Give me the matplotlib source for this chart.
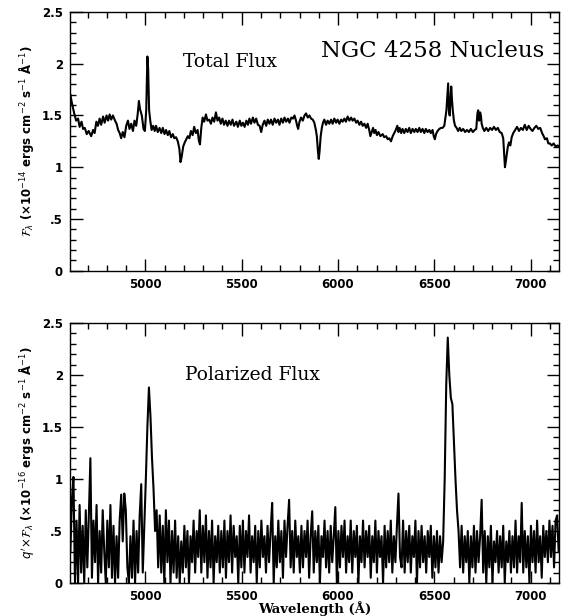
import numpy as np
import matplotlib
matplotlib.use("Agg")
import matplotlib.pyplot as plt
from matplotlib.ticker import MultipleLocator, FuncFormatter

# total flux spectrum (wavelength in A, flux in 1e-14 ergs/cm2/s/A)
wl_total = [4610, 4618, 4630, 4640, 4650, 4658, 4668, 4676, 4685, 4695, 4705, 4718, 4728, 4736, 4745,
            4753, 4762, 4770, 4780, 4788, 4798, 4806, 4814, 4822, 4831, 4842, 4850, 4858, 4866, 4874,
            4882, 4891, 4900, 4909, 4917, 4926, 4935, 4943, 4952, 4960, 4966, 4972, 4981, 4990, 4997,
            5004, 5010, 5014, 5019, 5025, 5032, 5040, 5048, 5055, 5064, 5073, 5082, 5090, 5099, 5107,
            5116, 5124, 5133, 5142, 5150, 5159, 5168, 5176, 5182, 5188, 5196, 5204, 5212, 5220, 5228,
            5236, 5245, 5253, 5262, 5271, 5277, 5283, 5290, 5297, 5305, 5314, 5322, 5331, 5340, 5348,
            5357, 5366, 5374, 5383, 5391, 5400, 5408, 5417, 5426, 5434, 5443, 5452, 5460, 5472, 5480,
            5490, 5498, 5506, 5515, 5524, 5532, 5540, 5548, 5558, 5566, 5575, 5584, 5593, 5601, 5609,
            5618, 5627, 5635, 5644, 5652, 5661, 5670, 5679, 5688, 5696, 5705, 5714, 5722, 5731, 5740,
            5748, 5757, 5766, 5774, 5782, 5788, 5793, 5800, 5808, 5817, 5826, 5834, 5843, 5852, 5860,
            5869, 5877, 5885, 5890, 5896, 5900, 5904, 5910, 5916, 5922, 5929, 5938, 5946, 5955, 5964,
            5972, 5981, 5990, 5998, 6007, 6016, 6024, 6033, 6041, 6050, 6059, 6068, 6076, 6085, 6094,
            6102, 6111, 6120, 6128, 6137, 6146, 6154, 6162, 6168, 6175, 6182, 6188, 6195, 6202, 6210,
            6220, 6232, 6240, 6250, 6258, 6266, 6275, 6284, 6292, 6300, 6308, 6314, 6320, 6328, 6335,
            6344, 6352, 6361, 6370, 6378, 6387, 6396, 6404, 6413, 6422, 6430, 6439, 6448, 6456, 6465,
            6474, 6482, 6491, 6497, 6503, 6509, 6517, 6526, 6535, 6543, 6552, 6558, 6563, 6568, 6572,
            6576, 6580, 6584, 6588, 6592, 6596, 6602, 6608, 6616, 6624, 6632, 6640, 6650, 6660, 6670,
            6680, 6690, 6700, 6710, 6718, 6724, 6728, 6733, 6738, 6742, 6746, 6752, 6760, 6770, 6780,
            6790, 6800, 6810, 6820, 6830, 6840, 6850, 6858, 6863, 6867, 6871, 6876, 6882, 6888, 6895,
            6902, 6910, 6920, 6930, 6940, 6950, 6960, 6970, 6980, 6990, 7000, 7010, 7020, 7030, 7040,
            7050, 7060, 7068, 7075, 7085, 7092, 7100, 7110, 7120, 7130, 7140, 7148]
flux_total = [1.70, 1.62, 1.52, 1.45, 1.47, 1.39, 1.44, 1.37, 1.38, 1.32, 1.35, 1.30, 1.36, 1.33, 1.44,
              1.40, 1.47, 1.41, 1.49, 1.43, 1.50, 1.45, 1.51, 1.46, 1.50, 1.45, 1.42, 1.36, 1.33, 1.28,
              1.34, 1.29, 1.40, 1.45, 1.37, 1.42, 1.35, 1.45, 1.40, 1.52, 1.64, 1.56, 1.50, 1.37, 1.35,
              1.55, 2.07, 1.95, 1.55, 1.45, 1.36, 1.40, 1.35, 1.40, 1.34, 1.38, 1.33, 1.38, 1.32, 1.36,
              1.31, 1.35, 1.29, 1.32, 1.28, 1.29, 1.25, 1.18, 1.05, 1.10, 1.20, 1.24, 1.27, 1.30, 1.28,
              1.35, 1.31, 1.39, 1.33, 1.36, 1.26, 1.22, 1.38, 1.48, 1.44, 1.51, 1.45, 1.46, 1.42, 1.48,
              1.44, 1.53, 1.45, 1.48, 1.42, 1.47, 1.41, 1.45, 1.40, 1.45, 1.41, 1.46, 1.40, 1.44, 1.39,
              1.45, 1.40, 1.43, 1.39, 1.45, 1.41, 1.47, 1.42, 1.48, 1.43, 1.47, 1.41, 1.40, 1.34, 1.41,
              1.45, 1.40, 1.46, 1.42, 1.46, 1.41, 1.47, 1.43, 1.46, 1.41, 1.47, 1.43, 1.48, 1.44, 1.47,
              1.43, 1.48, 1.47, 1.50, 1.45, 1.40, 1.37, 1.44, 1.48, 1.45, 1.50, 1.52, 1.48, 1.50, 1.47,
              1.46, 1.43, 1.36, 1.30, 1.15, 1.08, 1.15, 1.30, 1.38, 1.43, 1.46, 1.41, 1.45, 1.42, 1.46,
              1.42, 1.47, 1.43, 1.46, 1.42, 1.46, 1.44, 1.47, 1.44, 1.49, 1.45, 1.48, 1.45, 1.47, 1.43,
              1.45, 1.41, 1.44, 1.40, 1.42, 1.38, 1.42, 1.36, 1.30, 1.34, 1.38, 1.33, 1.36, 1.31, 1.34,
              1.30, 1.32, 1.29, 1.30, 1.27, 1.28, 1.25, 1.30, 1.33, 1.36, 1.40, 1.34, 1.38, 1.33, 1.37,
              1.33, 1.37, 1.34, 1.38, 1.33, 1.37, 1.34, 1.37, 1.34, 1.38, 1.34, 1.37, 1.33, 1.37, 1.34,
              1.36, 1.33, 1.36, 1.30, 1.27, 1.32, 1.35, 1.37, 1.38, 1.38, 1.40, 1.48, 1.55, 1.70, 1.81,
              1.55, 1.50, 1.65, 1.78, 1.65, 1.55, 1.45, 1.40, 1.38, 1.35, 1.38, 1.35, 1.37, 1.34, 1.36,
              1.34, 1.37, 1.34, 1.36, 1.37, 1.52, 1.55, 1.45, 1.53, 1.50, 1.42, 1.38, 1.35, 1.38, 1.35,
              1.38, 1.36, 1.39, 1.36, 1.38, 1.34, 1.33, 1.28, 1.12, 1.00, 1.05, 1.12, 1.20, 1.24, 1.21,
              1.29, 1.33, 1.36, 1.39, 1.35, 1.38, 1.36, 1.41, 1.36, 1.40, 1.37, 1.35, 1.38, 1.40, 1.37,
              1.38, 1.33, 1.30, 1.27, 1.28, 1.23, 1.23, 1.21, 1.23, 1.20, 1.21, 1.20]

# polarized flux, sampled every 8 A starting at 4610 A (1e-16 units)
pol_start = 4610
pol_step = 8
flux_pol = [
    0.3, 0.8, 1.02, 0.0, 0.6, 0.0, 0.75, 0.1, 0.55, 0.0,
    0.7, 0.15, 0.65, 1.2, 0.05, 0.6, 0.2, 0.75, 0.0, 0.5,
    0.1, 0.7, 0.3, 0.0, 0.6, 0.15, 0.75, 0.05, 0.55, 0.0,
    0.45, 0.05, 0.6, 0.85, 0.4, 0.86, 0.7, 0.15, 0.0, 0.45,
    0.05, 0.6, 0.0, 0.5, 0.1, 0.65, 0.95, 0.1, 0.55, 1.0,
    1.5, 1.88, 1.6, 1.2, 0.9, 0.5, 0.7, 0.15, 0.65, 0.1,
    0.55, 0.0, 0.7, 0.2, 0.6, 0.0, 0.5, 0.1, 0.6, 0.05,
    0.45, 0.0, 0.4, 0.1, 0.55, 0.15, 0.5, 0.0, 0.45, 0.2,
    0.6, 0.1, 0.5, 0.25, 0.7, 0.1, 0.55, 0.2, 0.65, 0.05,
    0.5, 0.15, 0.6, 0.0, 0.45, 0.2, 0.55, 0.1, 0.5, 0.15,
    0.6, 0.05, 0.5, 0.2, 0.65, 0.1, 0.55, 0.25, 0.45, 0.0,
    0.55, 0.15, 0.6, 0.1, 0.5, 0.25, 0.65, 0.1, 0.45, 0.2,
    0.55, 0.0, 0.5, 0.15, 0.6, 0.25, 0.45, 0.1, 0.55, 0.2,
    0.5, 0.77, 0.0, 0.45, 0.15, 0.6, 0.2, 0.5, 0.05, 0.6,
    0.25, 0.55, 0.8, 0.15, 0.5, 0.1, 0.6, 0.25, 0.45, 0.1,
    0.55, 0.15, 0.5, 0.25, 0.6, 0.05, 0.45, 0.69, 0.1, 0.5,
    0.2, 0.55, 0.0, 0.45, 0.25, 0.6, 0.15, 0.5, 0.1, 0.55,
    0.2, 0.45, 0.73, 0.0, 0.5, 0.15, 0.55, 0.25, 0.6, 0.1,
    0.45, 0.2, 0.6, 0.1, 0.5, 0.25, 0.55, 0.0, 0.45, 0.2,
    0.6, 0.15, 0.5, 0.25, 0.55, 0.05, 0.45, 0.2, 0.6, 0.1,
    0.5, 0.25, 0.45, 0.0, 0.55, 0.15, 0.5, 0.2, 0.6, 0.1,
    0.45, 0.2, 0.55, 0.86, 0.25, 0.15, 0.6, 0.1, 0.5, 0.2,
    0.55, 0.1, 0.45, 0.25, 0.6, 0.0, 0.5, 0.15, 0.55, 0.2,
    0.45, 0.1, 0.5, 0.25, 0.55, 0.05, 0.45, 0.15, 0.5, 0.1,
    0.45, 0.2, 0.4, 1.0, 1.9, 2.36, 2.0, 1.78, 1.72, 1.35,
    1.0, 0.7, 0.5, 0.15, 0.55, 0.1, 0.45, 0.2, 0.5, 0.0,
    0.45, 0.15, 0.55, 0.1, 0.5, 0.2, 0.45, 0.8, 0.1, 0.5,
    0.0, 0.45, 0.15, 0.55, 0.0, 0.4, 0.2, 0.5, 0.1, 0.45,
    0.15, 0.55, 0.0, 0.4, 0.2, 0.5, 0.1, 0.45, 0.15, 0.6,
    0.1, 0.45, 0.2, 0.77, 0.1, 0.5, 0.15, 0.45, 0.0, 0.55,
    0.2, 0.5, 0.1, 0.6, 0.2, 0.45, 0.05, 0.55, 0.25, 0.5,
    0.2, 0.6, 0.25, 0.55, 0.15, 0.6, 0.65, 0.3,
]
wl_pol = pol_start + pol_step * np.arange(len(flux_pol))

xlim = (4608, 7148)
ylim = (0, 2.5)


def ylab(v, pos):
    if v == 0:
        return "0"
    s = ("%g" % v)
    return s[1:] if s.startswith("0.") else s


def style_axes(ax):
    ax.set_xlim(*xlim)
    ax.set_ylim(*ylim)
    ax.xaxis.set_major_locator(MultipleLocator(500))
    ax.xaxis.set_minor_locator(MultipleLocator(100))
    ax.yaxis.set_major_locator(MultipleLocator(0.5))
    ax.yaxis.set_minor_locator(MultipleLocator(0.1))
    ax.yaxis.set_major_formatter(FuncFormatter(ylab))
    ax.tick_params(which="both", direction="in", top=True, right=True, width=1.0)
    ax.tick_params(which="major", length=9, labelsize=8.5, pad=5)
    ax.tick_params(which="minor", length=4.5)
    for lab in ax.get_xticklabels() + ax.get_yticklabels():
        lab.set_fontweight("bold")
    for sp in ax.spines.values():
        sp.set_linewidth(1.0)


fig = plt.figure(figsize=(5.63, 6.16), dpi=100)
ax1 = fig.add_axes([0.1243, 0.5606, 0.8687, 0.4199])
ax2 = fig.add_axes([0.1243, 0.0536, 0.8687, 0.4220])

ax1.plot(wl_total, flux_total, color="black", lw=1.5)
ax2.plot(wl_pol, flux_pol, color="black", lw=1.5)

style_axes(ax1)
style_axes(ax2)

ax1.set_ylabel(r"$\mathcal{F}_\lambda$ (×10$^{-14}$ ergs cm$^{-2}$ s$^{-1}$ Å$^{-1}$)",
               fontsize=8.5, fontweight="bold", labelpad=4)
ax2.set_ylabel(r"$q'\!\times\!\mathcal{F}_\lambda$ (×10$^{-16}$ ergs cm$^{-2}$ s$^{-1}$ Å$^{-1}$)",
               fontsize=8.5, fontweight="bold", labelpad=4)
ax2.set_xlabel("Wavelength (Å)", fontsize=9.5, fontweight="bold", family="DejaVu Serif", labelpad=-1)

ax1.text(5195, 2.02, "Total Flux", fontsize=13.5, family="DejaVu Serif", ha="left", va="center")
ax1.text(5910, 2.12, "NGC 4258 Nucleus", fontsize=16.5, family="DejaVu Serif", ha="left", va="center")
ax2.text(5205, 2.0, "Polarized Flux", fontsize=13.5, family="DejaVu Serif", ha="left", va="center")

fig.savefig("out.png", dpi=100)
